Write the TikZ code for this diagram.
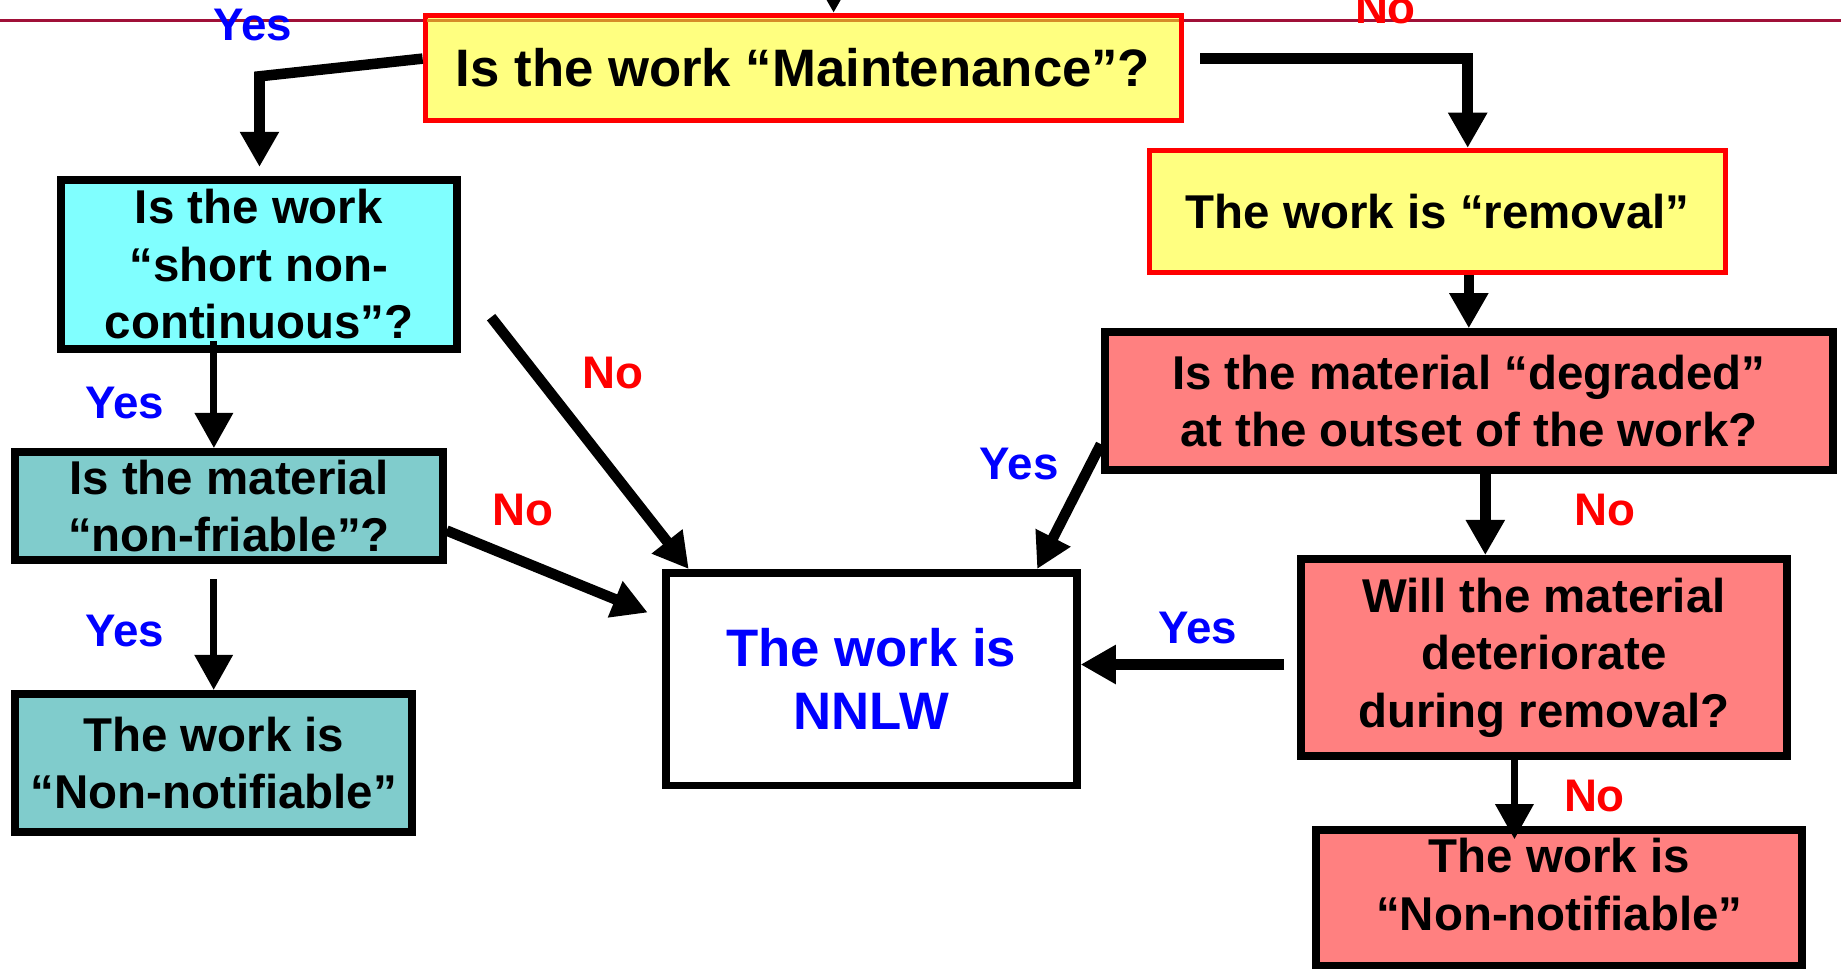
\documentclass[tikz,border=0pt]{standalone}
\usepackage{fontspec}
\setmainfont{Liberation Sans}
\usetikzlibrary{arrows.meta}

\definecolor{boxyellow}{HTML}{FFFF80}
\definecolor{boxcyan}{HTML}{80FFFF}
\definecolor{boxteal}{HTML}{80CCCC}
\definecolor{boxsalmon}{HTML}{FF8080}
\definecolor{topline}{RGB}{160,16,56}
\definecolor{topline in}{RGB}{214,140,40}

\begin{document}
\begin{tikzpicture}[x=0.02348cm,y=-0.02348cm,>={Triangle[length=20pt,width=21pt]},
  every node/.style={font=\fontsize{27}{32.7}\selectfont\bfseries,align=center,inner sep=0pt},
  box node/.style={draw,rectangle,line width=4.5pt},
  work node/.style={box node,fill=boxyellow,draw=red,line width=2.8pt},
  short node/.style={box node,fill=boxcyan},
  friable node/.style={box node,fill=boxteal},
  removal node/.style={box node,fill=boxsalmon},
  nnlw node/.style={box node,fill=white,text=blue,font=\fontsize{30}{36}\selectfont\bfseries},
  yes node/.style={font=\fontsize{26}{30}\selectfont\bfseries,text=blue},
  no node/.style={font=\fontsize{26}{30}\selectfont\bfseries,text=red},
  trans/.style={->,line width=6pt},
  thin trans/.style={->,line width=4pt}]

  \useasboundingbox (0,0) rectangle (1568,825);
  \clip (0,0) rectangle (1568,825);

  % thin line across the top
  \draw[topline,line width=1.5pt] (0,17.5) -- (1568,17.5);

  \node[work node,minimum width=15.12cm,minimum height=2.11cm,font=\fontsize{30}{33}\selectfont\bfseries]
    (maint) at (684,58) {Is the work “Maintenance”?};
  \draw[topline in,line width=1.5pt] (364,17.5) -- (1004,17.5);
  \node[work node,minimum width=11.53cm,minimum height=2.44cm]
    (removal) at (1224.5,180) {The work is “removal”};
  \node[short node,minimum width=7.91cm,minimum height=3.38cm]
    (short) at (220.5,225) {Is the work\\“short non-\\continuous”?};
  \node[friable node,minimum width=8.55cm,minimum height=2.16cm]
    (friable) at (195,431) {Is the material\\“non-friable”?};
  \node[friable node,minimum width=7.94cm,minimum height=2.77cm]
    (nnleft) at (182,650) {The work is\\“Non-notifiable”};
  \node[nnlw node,minimum width=8.22cm,minimum height=4.25cm]
    (nnlw) at (742,578.5) {The work is\\NNLW};
  \node[removal node,minimum width=14.56cm,minimum height=2.75cm]
    (degraded) at (1251,341.5) {Is the material “degraded”\\at the outset of the work?};
  \node[removal node,minimum width=9.72cm,minimum height=3.94cm]
    (deter) at (1315,560) {Will the material\\deteriorate\\during removal?};
  \node[removal node,minimum width=9.72cm,minimum height=2.72cm,text depth=16pt]
    (nnright) at (1328,765) {The work is\\“Non-notifiable”};

  % labels
  \node[yes node] (yes1) at (215,21) {Yes};
  \node[no node]  (no1)  at (1180,7) {No};
  \node[yes node] (yes2) at (106,343) {Yes};
  \node[no node]  (no2)  at (522,318) {No};
  \node[no node]  (no3)  at (445,434) {No};
  \node[yes node] (yes3) at (106,537) {Yes};
  \node[yes node] (yes4) at (868,395) {Yes};
  \node[no node]  (no4)  at (1367,434) {No};
  \node[yes node] (yes5) at (1020,535) {Yes};
  \node[no node]  (no5)  at (1358,678) {No};

  \coordinate (in) at (710,-10);
  \coordinate (lbend) at (221,65);
  \coordinate (sa) at ([xshift=-0.9cm,yshift=0.23cm]short.south);
  \coordinate (fa) at ([yshift=-0.3cm]friable.south);
  \coordinate (dy) at ([xshift=-0.26cm,yshift=-0.14cm]deter.west);
  \coordinate (dn) at ([xshift=0.33cm]degraded.south);
  \coordinate (dn2) at ([xshift=-0.59cm]deter.south);

  \draw[trans,shorten >=5pt] ([yshift=0.19cm]maint.west) -- (lbend) -- (lbend |- short.north);
  \draw[trans] ([xshift=0.33cm,yshift=0.19cm]maint.east) -| ([xshift=0.6cm]removal.north);

  \path[trans]
    (in) edge (in |- maint.north)
    (removal.south -| degraded.north) edge (degraded.north)
    ([xshift=0.61cm,yshift=-1.06cm]short.east) edge ([xshift=0.54cm]nnlw.north west)
    ([yshift=-0.49cm]friable.east) edge ([xshift=-0.28cm,yshift=-0.87cm]nnlw.north west)
    ([yshift=0.59cm]degraded.south west) edge ([xshift=-0.87cm]nnlw.north east)
    (dy) edge (dy -| nnlw.east)
    (dn) edge (dn |- deter.north);
  \path[thin trans]
    (sa) edge (sa |- friable.north)
    (fa -| nnleft.north) edge (nnleft.north)
    (dn2) edge [shorten >=-0.26cm] (dn2 |- nnright.north);
\end{tikzpicture}
\end{document}
